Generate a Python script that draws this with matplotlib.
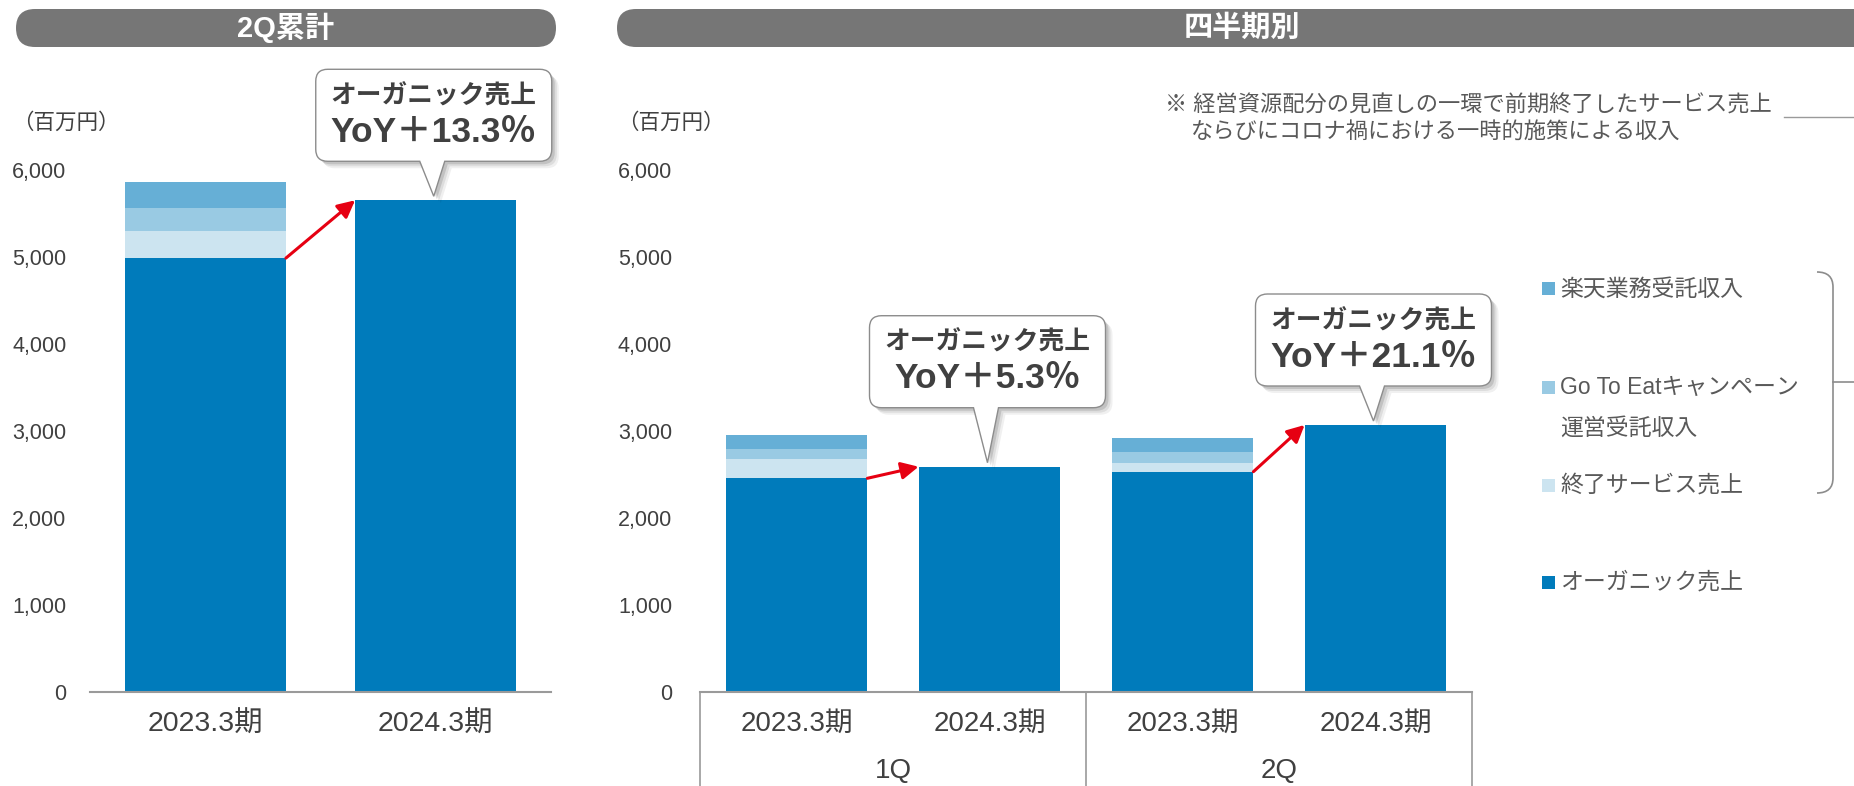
import matplotlib
matplotlib.use('Agg')
import matplotlib.pyplot as plt
from matplotlib.path import Path
from matplotlib.patches import PathPatch, FancyBboxPatch, Rectangle
from matplotlib.transforms import IdentityTransform, Affine2D, blended_transform_factory

plt.rcParams['font.family'] = ['Liberation Sans', 'Noto Sans CJK JP']

# ---- data ----
periods = ['2023.3期', '2024.3期']
cum_organic = [4990, 5655]
cum_ended = [307, 0]
cum_goto = [264, 0]
cum_rakuten = [310, 0]
cum_yoy = ['YoY＋13.3％']

q_periods = ['2023.3期', '2024.3期', '2023.3期', '2024.3期']
quarters = ['1Q', '2Q']
q_organic = [2456, 2589, 2532, 3069]
q_ended = [219, 0, 96, 0]
q_goto = [118, 0, 133, 0]
q_rakuten = [161, 0, 154, 0]
q_yoy = ['YoY＋5.3％', 'YoY＋21.1％']

legend_labels = ['楽天業務受託収入', 'Go To Eatキャンペーン\n運営受託収入', '終了サービス売上', 'オーガニック売上']
note_lines = ['※ 経営資源配分の見直しの一環で前期終了したサービス売上',
              'ならびにコロナ禍における一時的施策による収入']

C_ORG = '#007BBB'
C_RAK = '#66AFD6'
C_GOTO = '#99CAE3'
C_END = '#CCE4F0'
TXT = '#404040'
GRAY = '#595959'

W, H = 1854, 786
fig = plt.figure(figsize=(W / 100, H / 100), dpi=100)


def fx(x):
    return x / W


def fy(y):
    # y measured from the top in pixels
    return 1 - y / H


ax1 = fig.add_axes([fx(90), 94.3 / H, 461 / W, 521.4 / H])
ax2 = fig.add_axes([fx(700), 94.3 / H, 772 / W, 521.4 / H])


def stack(ax, org, ended, goto, rak, width):
    x = list(range(len(org)))
    ax.bar(x, org, width, color=C_ORG, zorder=2)
    b = list(org)
    ax.bar(x, ended, width, bottom=b, color=C_END, zorder=2)
    b = [i + j for i, j in zip(b, ended)]
    ax.bar(x, goto, width, bottom=b, color=C_GOTO, zorder=2)
    b = [i + j for i, j in zip(b, goto)]
    ax.bar(x, rak, width, bottom=b, color=C_RAK, zorder=2)


def style(ax, n, pad):
    ax.set_xlim(-0.5, n - 0.5)
    ax.set_ylim(0, 6000)
    ax.set_yticks(range(0, 6001, 1000))
    ax.set_yticklabels([f'{v:,}' for v in range(0, 6001, 1000)], fontsize=15.5, color=TXT)
    ax.tick_params(axis='y', length=0, pad=pad)
    ax.tick_params(axis='x', length=0, pad=14)
    for s in ['left', 'right', 'top']:
        ax.spines[s].set_visible(False)
    ax.spines['bottom'].set_color('#9a9a9a')
    ax.spines['bottom'].set_linewidth(1.5)
    ax.patch.set_alpha(0)


bw1 = 0.70
bw2 = 0.735
stack(ax1, cum_organic, cum_ended, cum_goto, cum_rakuten, bw1)
stack(ax2, q_organic, q_ended, q_goto, q_rakuten, bw2)
style(ax1, 2, 17)
style(ax2, 4, 20)
ax1.set_xticks(range(2))
ax1.set_xticklabels(periods, fontsize=20.5, color=TXT)
ax2.set_xticks(range(4))
ax2.set_xticklabels(q_periods, fontsize=20, color=TXT)

# table lines + quarter labels under the quarterly chart
tr = blended_transform_factory(ax2.transData, ax2.transAxes)
for xv in [-0.5, 1.5, 3.5]:
    ax2.plot([xv, xv], [0, -0.25], color='#9a9a9a', lw=1.2, transform=tr, clip_on=False)
for i, q in enumerate(quarters):
    ax2.text(2 * i + 0.5, -0.152, q, transform=tr, ha='center', va='center',
             fontsize=20, color=TXT)


def arrow(ax, x1, y1, x2, y2):
    ax.annotate('', xy=(x2, y2), xytext=(x1, y1),
                arrowprops=dict(arrowstyle='-|>', color='#E60012', lw=2.2,
                                mutation_scale=26, shrinkA=0, shrinkB=0),
                zorder=4, annotation_clip=False)


arrow(ax1, 0 + bw1 / 2, cum_organic[0], 1 - bw1 / 2, cum_organic[1])
arrow(ax2, 0 + bw2 / 2, q_organic[0], 1 - bw2 / 2, q_organic[1])
arrow(ax2, 2 + bw2 / 2, q_organic[2], 3 - bw2 / 2, q_organic[3])


def callout_path(tx, ty, gap, w=236, h=92, r=12):
    x0 = tx - w / 2
    y0 = ty + gap
    x1 = x0 + w
    y1 = y0 + h
    verts = [(x0 + r, y0), (tx - 14, y0), (tx, ty), (tx + 11, y0), (x1 - r, y0),
             (x1, y0), (x1, y0 + r), (x1, y1 - r), (x1, y1), (x1 - r, y1),
             (x0 + r, y1), (x0, y1), (x0, y1 - r), (x0, y0 + r), (x0, y0), (x0 + r, y0),
             (x0 + r, y0)]
    codes = [Path.MOVETO, Path.LINETO, Path.LINETO, Path.LINETO, Path.LINETO,
             Path.CURVE3, Path.CURVE3, Path.LINETO, Path.CURVE3, Path.CURVE3,
             Path.LINETO, Path.CURVE3, Path.CURVE3, Path.LINETO, Path.CURVE3, Path.CURVE3,
             Path.CLOSEPOLY]
    return Path(verts, codes), y1


def callout(ax, xd, yd, gap, yoy):
    tx, ty = ax.transData.transform((xd, yd))
    tx -= 2
    ty += 4
    path, top = callout_path(tx, ty, gap)
    # soft shadow
    for k, a in [(7, 0.06), (5, 0.08), (3, 0.12)]:
        sh = PathPatch(path, transform=Affine2D().translate(k, -k), facecolor=(0, 0, 0, a),
                       edgecolor='none', zorder=5)
        fig.add_artist(sh)
    p = PathPatch(path, transform=IdentityTransform(), facecolor='white',
                  edgecolor='#8c8c8c', lw=1, zorder=6)
    fig.add_artist(p)
    fig.text(tx / W, (top - 27) / H, 'オーガニック売上', ha='center', va='center',
             fontsize=18.5, fontweight='bold', color=TXT, zorder=7)
    fig.text(tx / W, (top - 63) / H, yoy, ha='center', va='center',
             fontsize=25.5, fontweight='bold', color=TXT, zorder=7)


callout(ax1, 1, cum_organic[1], 35, cum_yoy[0])
callout(ax2, 1, q_organic[1], 55, q_yoy[0])
callout(ax2, 3, q_organic[3], 35, q_yoy[1])

# title pills
for x0, x1, title, cx in [(16, 556, '2Q累計', 286), (617, 1900, '四半期別', 1242)]:
    pill = FancyBboxPatch((x0 + 19, H - 47 + 19), x1 - x0 - 38, 0,
                          boxstyle='round,pad=19', transform=IdentityTransform(),
                          facecolor='#767676', edgecolor='none')
    fig.add_artist(pill)
    fig.text(fx(cx), fy(28), title, ha='center', va='center', fontsize=21,
             fontweight='bold', color='white')

# unit labels
fig.text(fx(12), fy(123), '（百万円）', ha='left', va='center', fontsize=15.5, color=TXT)
fig.text(fx(617), fy(123), '（百万円）', ha='left', va='center', fontsize=15.5, color=TXT)

# note
fig.text(fx(1165), fy(106), note_lines[0], ha='left', va='center', fontsize=16, color=GRAY)
fig.text(fx(1191), fy(132), note_lines[1], ha='left', va='center', fontsize=16, color=GRAY)
fig.add_artist(plt.Line2D([fx(1784), 1], [fy(117), fy(117)], color='#9a9a9a', lw=1,
                          transform=fig.transFigure))

# legend
leg_rows = [289, 387, 485, 582]
leg_colors = [C_RAK, C_GOTO, C_END, C_ORG]
for yy, col, lab in zip(leg_rows, leg_colors, legend_labels):
    fig.add_artist(Rectangle((fx(1542), fy(yy + 6.5)), 13 / W, 13 / H,
                             transform=fig.transFigure, facecolor=col, edgecolor='none'))
    first, *rest = lab.split('\n')
    fig.text(fx(1560), fy(yy), first, ha='left', va='center', fontsize=16.5, color=GRAY)
    for j, line in enumerate(rest):
        fig.text(fx(1560), fy(yy + 41 * (j + 1)), line, ha='left', va='center',
                 fontsize=16.5, color=GRAY)

# bracket grouping the one-off items
bx0, bx1, btop, bbot, bmid = 1817, 1833, 272, 493, 382
bverts = [(bx0, H - btop), (bx1, H - btop), (bx1, H - btop - 15), (bx1, H - bbot + 15),
          (bx1, H - bbot), (bx0, H - bbot)]
bcodes = [Path.MOVETO, Path.CURVE3, Path.CURVE3, Path.LINETO, Path.CURVE3, Path.CURVE3]
fig.add_artist(PathPatch(Path(bverts, bcodes), transform=IdentityTransform(),
                         facecolor='none', edgecolor='#8c8c8c', lw=1.2))
fig.add_artist(plt.Line2D([fx(bx1), 1], [fy(bmid), fy(bmid)], color='#8c8c8c', lw=1.2,
                          transform=fig.transFigure))

fig.savefig('out.png', dpi=100)
